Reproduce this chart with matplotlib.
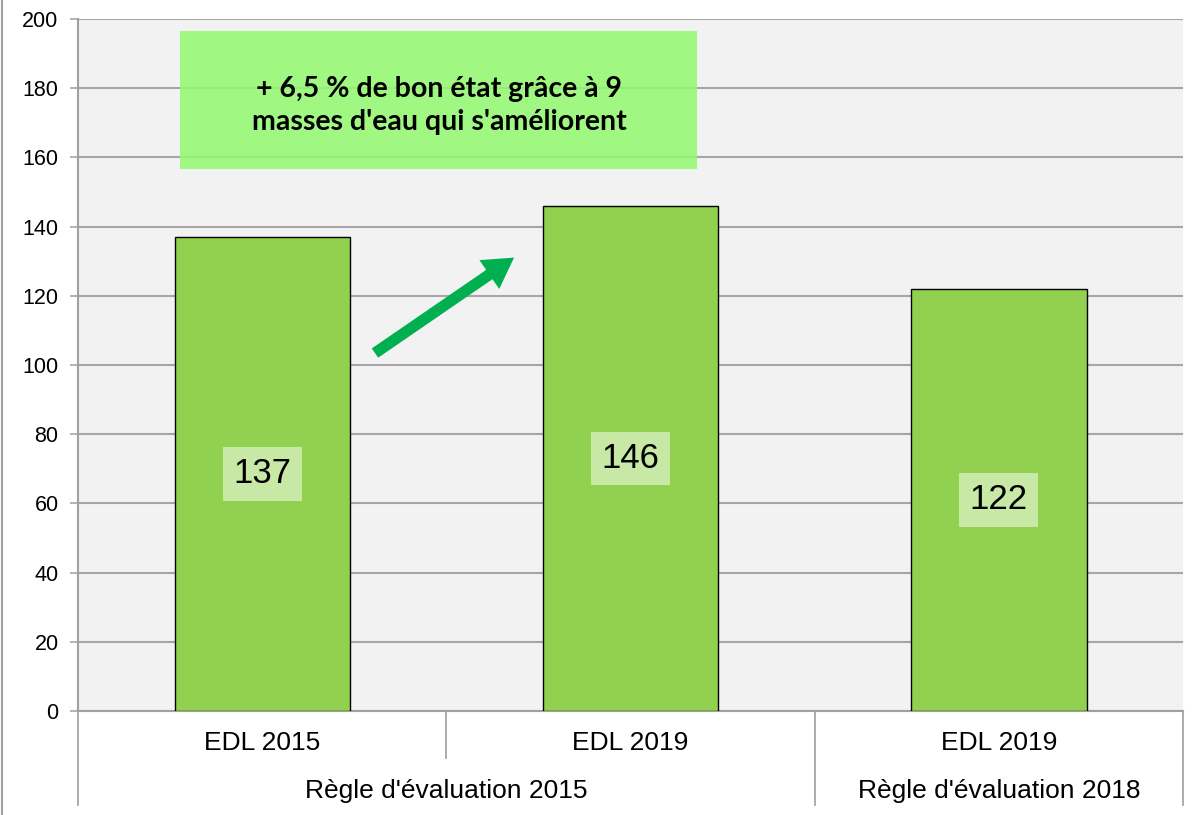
import matplotlib
matplotlib.use("Agg")
import matplotlib.pyplot as plt
from matplotlib.patches import Rectangle
from matplotlib.lines import Line2D
import matplotlib.transforms as mtransforms

# ── Data ─────────────────────────────────────────────────────────────────────
categories = ["EDL 2015", "EDL 2019", "EDL 2019"]
values = [137, 146, 122]
groups = ["Règle d'évaluation 2015", "Règle d'évaluation 2018"]
group_spans = [(0, 1), (2, 2)]          # first / last category index in each group
yticks = list(range(0, 201, 20))
note = "+ 6,5 % de bon état grâce à 9\nmasses d'eau qui s'améliorent"

# ── Style ────────────────────────────────────────────────────────────────────
plt.rcParams.update({
    "font.family": ["Liberation Sans", "DejaVu Sans"],
    "axes.edgecolor": "#a0a0a0",
})
GRID = "#a6a6a6"
BAR = "#92d050"

fig = plt.figure(figsize=(11.95, 8.15), dpi=100)
ax = fig.add_axes([0.0653, 0.1276, 0.9247, 0.8491])
ax.set_facecolor("#f2f2f2")

x = list(range(len(categories)))
ax.bar(x, values, width=0.476, color=BAR, edgecolor="black", linewidth=1.0, zorder=3)

ax.set_xlim(-0.5, len(categories) - 0.5)
ax.set_ylim(0, 200)
ax.set_yticks(yticks)
ax.tick_params(axis="y", labelsize=15.5, length=6, width=1.2, color=GRID, pad=8)
ax.set_xticks([])
ax.grid(axis="y", color=GRID, linewidth=1.5, zorder=0)
ax.set_axisbelow(True)
for s in ["top", "right"]:
    ax.spines[s].set_visible(False)
ax.spines["left"].set_linewidth(1.5)
ax.spines["bottom"].set_linewidth(1.5)

# value labels in the middle of each bar
for xi, v in zip(x, values):
    ax.text(xi, v / 2, str(v), ha="center", va="center", fontsize=25, zorder=5,
            bbox=dict(boxstyle="square,pad=0.3", fc="#c8e8a6", ec="none"))

# multi-level category axis
trans = mtransforms.blended_transform_factory(ax.transData, ax.transAxes)
for xi, lab in zip(x, categories):
    ax.text(xi, -0.046, lab, transform=trans, ha="center", va="center", fontsize=19)
for (a, b), lab in zip(group_spans, groups):
    ax.text((a + b) / 2, -0.116, lab, transform=trans, ha="center", va="center", fontsize=19)
# separators
sep_lines = [(-0.5, -0.136), (0.5, -0.068), (1.5, -0.136), (2.5, -0.136)]
for xs, ybot in sep_lines:
    ax.add_line(Line2D([xs, xs], [0, ybot], transform=trans, color=GRID,
                       linewidth=1.3, clip_on=False))

# annotation box
ax.add_patch(Rectangle((-0.222, 156.6), 1.403, 39.9, facecolor="#92f96e",
                       edgecolor="none", alpha=0.85, zorder=4))
ax.text(0.48, 175.0, note, ha="center", va="center", fontsize=20.5,
        fontweight="bold", family=["Lato", "DejaVu Sans"], linespacing=1.35, zorder=5)

# arrow
ax.annotate("", xy=(0.69, 131.5), xytext=(0.30, 103.0),
            arrowprops=dict(arrowstyle="simple,head_length=1.2,head_width=1.4,tail_width=0.45",
                            color="#00b050", lw=0, mutation_scale=18), zorder=5)

# outer left border of chart
fig.add_artist(Line2D([0.002, 0.002], [0, 1], transform=fig.transFigure,
                      color="#a0a0a0", linewidth=1.5))

fig.savefig("out.png", dpi=100)
